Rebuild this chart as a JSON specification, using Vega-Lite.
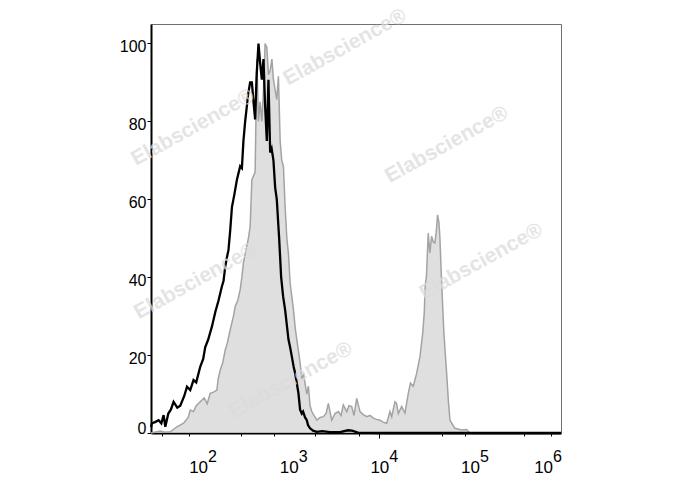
{
  "$schema": "https://vega.github.io/schema/vega-lite/v6.json",
  "width": 410,
  "height": 409,
  "autosize": "none",
  "padding": {"left": 151, "top": 24, "right": 127, "bottom": 57},
  "background": "white",
  "config": {"view": {"stroke": "#707070", "strokeWidth": 1}, "font": "Liberation Sans"},
  "datasets": {
    "stained": [
      {"log10_intensity": 1.486, "count": 0}, {"log10_intensity": 1.588, "count": 0.5}, {"log10_intensity": 1.64, "count": 0.2},
      {"log10_intensity": 1.699, "count": 0.3}, {"log10_intensity": 1.772, "count": 1.6}, {"log10_intensity": 1.845, "count": 2.5},
      {"log10_intensity": 1.897, "count": 4}, {"log10_intensity": 1.919, "count": 5.9}, {"log10_intensity": 1.955, "count": 5.5},
      {"log10_intensity": 1.985, "count": 7}, {"log10_intensity": 2.029, "count": 8}, {"log10_intensity": 2.073, "count": 9},
      {"log10_intensity": 2.106, "count": 7.5}, {"log10_intensity": 2.139, "count": 10.2}, {"log10_intensity": 2.176, "count": 10.5},
      {"log10_intensity": 2.213, "count": 11}, {"log10_intensity": 2.228, "count": 14}, {"log10_intensity": 2.25, "count": 16.2},
      {"log10_intensity": 2.277, "count": 18}, {"log10_intensity": 2.305, "count": 21.3}, {"log10_intensity": 2.327, "count": 23},
      {"log10_intensity": 2.36, "count": 26.5}, {"log10_intensity": 2.396, "count": 30}, {"log10_intensity": 2.415, "count": 32.5},
      {"log10_intensity": 2.443, "count": 34}, {"log10_intensity": 2.47, "count": 36.8}, {"log10_intensity": 2.489, "count": 40},
      {"log10_intensity": 2.506, "count": 43.7}, {"log10_intensity": 2.525, "count": 46}, {"log10_intensity": 2.544, "count": 48},
      {"log10_intensity": 2.561, "count": 50}, {"log10_intensity": 2.58, "count": 53}, {"log10_intensity": 2.599, "count": 65},
      {"log10_intensity": 2.617, "count": 66}, {"log10_intensity": 2.635, "count": 67}, {"log10_intensity": 2.654, "count": 96},
      {"log10_intensity": 2.672, "count": 80}, {"log10_intensity": 2.69, "count": 85}, {"log10_intensity": 2.709, "count": 80},
      {"log10_intensity": 2.727, "count": 88}, {"log10_intensity": 2.745, "count": 100}, {"log10_intensity": 2.764, "count": 99},
      {"log10_intensity": 2.782, "count": 92}, {"log10_intensity": 2.801, "count": 93}, {"log10_intensity": 2.82, "count": 96},
      {"log10_intensity": 2.837, "count": 90.7}, {"log10_intensity": 2.856, "count": 88}, {"log10_intensity": 2.874, "count": 85.6},
      {"log10_intensity": 2.892, "count": 91.6}, {"log10_intensity": 2.911, "count": 75}, {"log10_intensity": 2.929, "count": 70},
      {"log10_intensity": 2.947, "count": 68.5}, {"log10_intensity": 2.966, "count": 58}, {"log10_intensity": 2.985, "count": 50},
      {"log10_intensity": 3.003, "count": 46}, {"log10_intensity": 3.021, "count": 38.5}, {"log10_intensity": 3.04, "count": 35},
      {"log10_intensity": 3.058, "count": 31.6}, {"log10_intensity": 3.077, "count": 27}, {"log10_intensity": 3.095, "count": 24},
      {"log10_intensity": 3.113, "count": 21}, {"log10_intensity": 3.131, "count": 18}, {"log10_intensity": 3.15, "count": 14},
      {"log10_intensity": 3.168, "count": 15.3}, {"log10_intensity": 3.205, "count": 10}, {"log10_intensity": 3.223, "count": 12},
      {"log10_intensity": 3.241, "count": 7}, {"log10_intensity": 3.26, "count": 5.5}, {"log10_intensity": 3.315, "count": 3.3},
      {"log10_intensity": 3.352, "count": 4}, {"log10_intensity": 3.388, "count": 4.2}, {"log10_intensity": 3.418, "count": 5},
      {"log10_intensity": 3.443, "count": 7.6}, {"log10_intensity": 3.48, "count": 3.3}, {"log10_intensity": 3.517, "count": 5},
      {"log10_intensity": 3.553, "count": 5.5}, {"log10_intensity": 3.583, "count": 4.5}, {"log10_intensity": 3.608, "count": 7.2},
      {"log10_intensity": 3.646, "count": 5.5}, {"log10_intensity": 3.671, "count": 7}, {"log10_intensity": 3.701, "count": 6.8},
      {"log10_intensity": 3.726, "count": 4.5}, {"log10_intensity": 3.756, "count": 8.9}, {"log10_intensity": 3.792, "count": 5.5},
      {"log10_intensity": 3.825, "count": 4.8}, {"log10_intensity": 3.866, "count": 4.2}, {"log10_intensity": 3.903, "count": 4.5},
      {"log10_intensity": 3.939, "count": 3.8}, {"log10_intensity": 3.974, "count": 3.5}, {"log10_intensity": 4.013, "count": 3.3},
      {"log10_intensity": 4.046, "count": 2.8}, {"log10_intensity": 4.087, "count": 2.5}, {"log10_intensity": 4.123, "count": 5.5},
      {"log10_intensity": 4.142, "count": 4.2}, {"log10_intensity": 4.178, "count": 8}, {"log10_intensity": 4.195, "count": 7.6},
      {"log10_intensity": 4.215, "count": 5}, {"log10_intensity": 4.252, "count": 6.8}, {"log10_intensity": 4.288, "count": 5.1},
      {"log10_intensity": 4.325, "count": 10.2}, {"log10_intensity": 4.349, "count": 12.8}, {"log10_intensity": 4.38, "count": 12},
      {"log10_intensity": 4.417, "count": 15.3}, {"log10_intensity": 4.454, "count": 19.6}, {"log10_intensity": 4.484, "count": 25.6},
      {"log10_intensity": 4.501, "count": 30.8}, {"log10_intensity": 4.512, "count": 38}, {"log10_intensity": 4.525, "count": 40},
      {"log10_intensity": 4.545, "count": 51.3}, {"log10_intensity": 4.563, "count": 46.2}, {"log10_intensity": 4.582, "count": 50.5},
      {"log10_intensity": 4.602, "count": 49}, {"log10_intensity": 4.619, "count": 48.8}, {"log10_intensity": 4.635, "count": 52},
      {"log10_intensity": 4.648, "count": 56}, {"log10_intensity": 4.663, "count": 54}, {"log10_intensity": 4.673, "count": 50.5},
      {"log10_intensity": 4.693, "count": 38.5}, {"log10_intensity": 4.718, "count": 25.6}, {"log10_intensity": 4.748, "count": 15.3},
      {"log10_intensity": 4.768, "count": 8}, {"log10_intensity": 4.785, "count": 3.3}, {"log10_intensity": 4.839, "count": 1.2},
      {"log10_intensity": 4.913, "count": 0.8}, {"log10_intensity": 4.968, "count": 0.9}, {"log10_intensity": 5.004, "count": 0},
      {"log10_intensity": 6.01, "count": 0}
    ],
    "control": [
      {"log10_intensity": 1.486, "count": 1.5}, {"log10_intensity": 1.497, "count": 2.5}, {"log10_intensity": 1.53, "count": 2.8},
      {"log10_intensity": 1.57, "count": 3.3}, {"log10_intensity": 1.6, "count": 2.5}, {"log10_intensity": 1.625, "count": 4.6},
      {"log10_intensity": 1.644, "count": 1.6}, {"log10_intensity": 1.677, "count": 5}, {"log10_intensity": 1.705, "count": 6},
      {"log10_intensity": 1.735, "count": 8}, {"log10_intensity": 1.776, "count": 6.5}, {"log10_intensity": 1.809, "count": 7},
      {"log10_intensity": 1.853, "count": 9.5}, {"log10_intensity": 1.883, "count": 11.9}, {"log10_intensity": 1.919, "count": 11},
      {"log10_intensity": 1.955, "count": 13.6}, {"log10_intensity": 1.985, "count": 13}, {"log10_intensity": 2.029, "count": 17},
      {"log10_intensity": 2.062, "count": 19}, {"log10_intensity": 2.084, "count": 22}, {"log10_intensity": 2.117, "count": 24},
      {"log10_intensity": 2.158, "count": 27.3}, {"log10_intensity": 2.195, "count": 31}, {"log10_intensity": 2.231, "count": 34},
      {"log10_intensity": 2.268, "count": 37.6}, {"log10_intensity": 2.286, "count": 39}, {"log10_intensity": 2.305, "count": 42.7},
      {"log10_intensity": 2.323, "count": 45}, {"log10_intensity": 2.341, "count": 47}, {"log10_intensity": 2.36, "count": 52},
      {"log10_intensity": 2.379, "count": 58}, {"log10_intensity": 2.404, "count": 61}, {"log10_intensity": 2.434, "count": 65},
      {"log10_intensity": 2.47, "count": 68.5}, {"log10_intensity": 2.489, "count": 68}, {"log10_intensity": 2.506, "count": 75},
      {"log10_intensity": 2.525, "count": 80}, {"log10_intensity": 2.544, "count": 84}, {"log10_intensity": 2.558, "count": 87},
      {"log10_intensity": 2.58, "count": 90}, {"log10_intensity": 2.599, "count": 90}, {"log10_intensity": 2.617, "count": 85},
      {"log10_intensity": 2.635, "count": 80.5}, {"log10_intensity": 2.652, "count": 92}, {"log10_intensity": 2.672, "count": 100},
      {"log10_intensity": 2.69, "count": 95}, {"log10_intensity": 2.709, "count": 90.7}, {"log10_intensity": 2.727, "count": 96},
      {"log10_intensity": 2.745, "count": 84}, {"log10_intensity": 2.764, "count": 75}, {"log10_intensity": 2.782, "count": 90.7},
      {"log10_intensity": 2.801, "count": 72}, {"log10_intensity": 2.817, "count": 73}, {"log10_intensity": 2.837, "count": 70},
      {"log10_intensity": 2.856, "count": 63}, {"log10_intensity": 2.874, "count": 60}, {"log10_intensity": 2.892, "count": 53},
      {"log10_intensity": 2.9, "count": 50}, {"log10_intensity": 2.922, "count": 40}, {"log10_intensity": 2.944, "count": 35},
      {"log10_intensity": 2.966, "count": 31.6}, {"log10_intensity": 3.003, "count": 24}, {"log10_intensity": 3.021, "count": 22},
      {"log10_intensity": 3.04, "count": 19.6}, {"log10_intensity": 3.06, "count": 17}, {"log10_intensity": 3.077, "count": 15.3},
      {"log10_intensity": 3.113, "count": 10.2}, {"log10_intensity": 3.131, "count": 6}, {"log10_intensity": 3.15, "count": 5},
      {"log10_intensity": 3.164, "count": 5.5}, {"log10_intensity": 3.186, "count": 4}, {"log10_intensity": 3.205, "count": 3.3},
      {"log10_intensity": 3.219, "count": 2}, {"log10_intensity": 3.241, "count": 1.2}, {"log10_intensity": 3.274, "count": 0.6},
      {"log10_intensity": 3.315, "count": 0.3}, {"log10_intensity": 3.374, "count": 0.5}, {"log10_intensity": 3.462, "count": 0.2},
      {"log10_intensity": 3.572, "count": 0.2}, {"log10_intensity": 3.66, "count": 0.7}, {"log10_intensity": 3.704, "count": 0.6},
      {"log10_intensity": 3.77, "count": 0.1}, {"log10_intensity": 4.013, "count": 0}, {"log10_intensity": 6.01, "count": 0}
    ],
    "watermarks": [
      {"log10_intensity": 1.95, "count": 78.4, "label": "Elabscience®"},
      {"log10_intensity": 3.627, "count": 99, "label": "Elabscience®"},
      {"log10_intensity": 4.75, "count": 74, "label": "Elabscience®"},
      {"log10_intensity": 1.98, "count": 39, "label": "Elabscience®"},
      {"log10_intensity": 5.13, "count": 44, "label": "Elabscience®"},
      {"log10_intensity": 3.03, "count": 13.5, "label": "Elabscience®"}
    ],
    "decades": [
      {"exponent": 2}, {"exponent": 3}, {"exponent": 4}, {"exponent": 5}, {"exponent": 6}
    ]
  },
  "layer": [
    {
      "data": {"name": "stained"},
      "mark": {"type": "area", "color": "#d1d1d1", "line": {"color": "#a3a3a3", "strokeWidth": 1.5}},
      "encoding": {
        "x": {
          "field": "log10_intensity", "type": "quantitative",
          "scale": {"domain": [1.486, 6.01], "nice": false, "zero": false},
          "axis": {
            "title": null, "grid": false, "labels": false,
            "values": [1.602, 1.699, 1.778, 1.845, 1.903, 1.954, 2, 2.301, 2.477, 2.602, 2.699, 2.778, 2.845, 2.903, 2.954, 3, 3.301, 3.477, 3.602, 3.699, 3.778, 3.845, 3.903, 3.954, 4, 4.301, 4.477, 4.602, 4.699, 4.778, 4.845, 4.903, 4.954, 5, 5.301, 5.477, 5.602, 5.699, 5.778, 5.845, 5.903, 5.954, 6],
            "tickSize": {"condition": {"test": "abs(datum.value - round(datum.value)) < 0.001", "value": 5}, "value": 3},
            "domainColor": "black", "domainWidth": 2, "tickColor": "black", "tickWidth": 1
          }
        },
        "y": {
          "field": "count", "type": "quantitative",
          "scale": {"domain": [0, 105], "nice": false},
          "axis": {
            "title": null, "grid": false, "values": [0, 20, 40, 60, 80, 100],
            "labelFontSize": 16, "labelColor": "black", "labelFont": "Liberation Sans",
            "labelPadding": 1, "labelOffset": 3, "labelFlush": true,
            "tickSize": 4, "tickColor": "black", "domainColor": "black", "domainWidth": 2
          }
        }
      }
    },
    {
      "data": {"name": "control"},
      "mark": {"type": "line", "color": "black", "strokeWidth": 2.3},
      "encoding": {
        "x": {"field": "log10_intensity", "type": "quantitative"},
        "y": {"field": "count", "type": "quantitative"}
      }
    },
    {
      "data": {"name": "watermarks"},
      "mark": {"type": "text", "angle": -29, "fontSize": 21, "fontWeight": "bold", "font": "Liberation Sans", "color": "#dcdcdc", "opacity": 0.75},
      "encoding": {
        "x": {"field": "log10_intensity", "type": "quantitative"},
        "y": {"field": "count", "type": "quantitative"},
        "text": {"field": "label"}
      }
    },
    {
      "data": {"name": "decades"},
      "mark": {"type": "text", "align": "center", "baseline": "alphabetic", "fontSize": 17, "font": "Liberation Sans", "color": "black",
        "dx": {"expr": "datum.exponent == 6 ? -16.5 : 1"}, "dy": 40},
      "encoding": {
        "x": {"field": "exponent", "type": "quantitative"},
        "y": {"datum": 0, "type": "quantitative"},
        "text": {"value": "10"}
      }
    },
    {
      "data": {"name": "decades"},
      "mark": {"type": "text", "align": "left", "baseline": "alphabetic", "fontSize": 16, "font": "Liberation Sans", "color": "black",
        "dx": {"expr": "datum.exponent == 6 ? -7 : 10.5"}, "dy": 28.5},
      "encoding": {
        "x": {"field": "exponent", "type": "quantitative"},
        "y": {"datum": 0, "type": "quantitative"},
        "text": {"field": "exponent", "type": "quantitative"}
      }
    }
  ]
}
